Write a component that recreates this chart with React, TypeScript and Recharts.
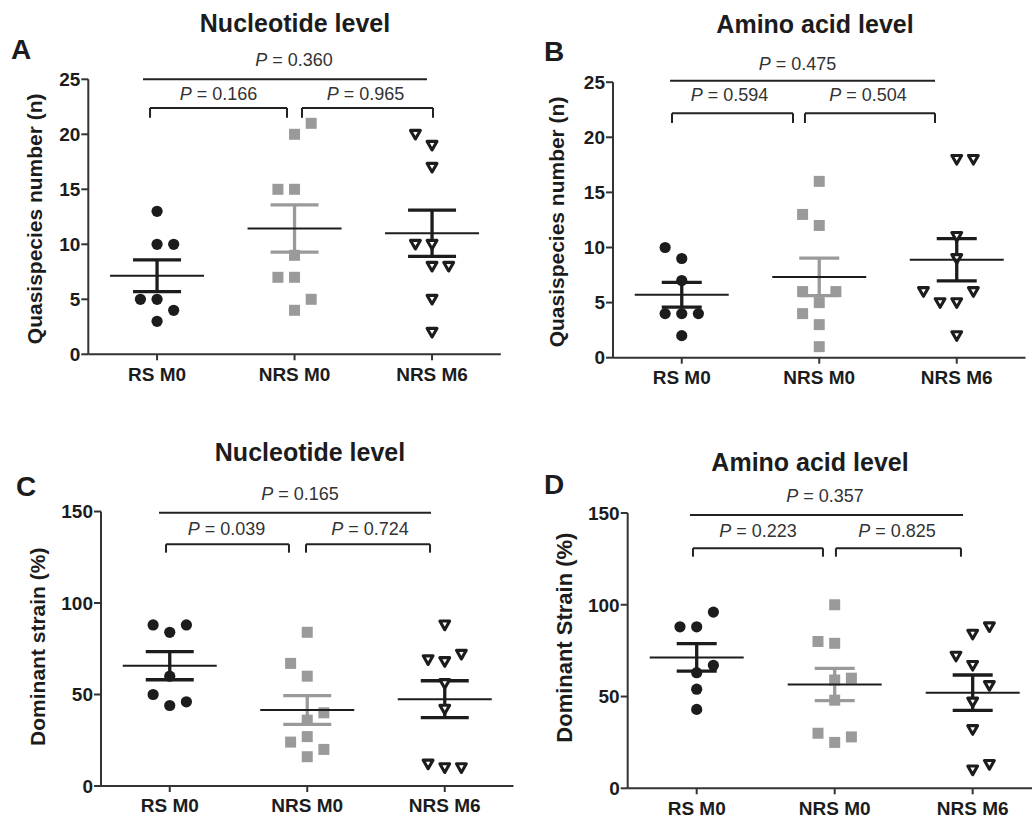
import React from "react";
import { ScatterChart, Scatter, XAxis, YAxis, ErrorBar, ReferenceLine } from "recharts";

const FONT = "'Liberation Sans', Arial, Helvetica, sans-serif";
const INK = "#1c1c1c";
const GREY = "#9a9a9a";

const groups = ["RS M0", "NRS M0", "NRS M6"];

// A: quasispecies number, nucleotide level
const ntQuasiRS = [13, 10, 10, 5, 5, 4, 3];
const ntQuasiNRS0 = [21, 20, 15, 15, 9, 7, 7, 5, 4];
const ntQuasiNRS6 = [20, 19, 17, 10, 10, 8, 8, 5, 2];
// B: quasispecies number, amino acid level
const aaQuasiRS = [10, 9, 7, 4, 4, 4, 2];
const aaQuasiNRS0 = [16, 13, 12, 6, 6, 5, 4, 3, 1];
const aaQuasiNRS6 = [18, 18, 11, 9, 6, 6, 5, 5, 2];
// C: dominant strain (%), nucleotide level
const ntDomRS = [88, 88, 84, 60, 50, 46, 44];
const ntDomNRS0 = [84, 67, 60, 40, 36, 27, 24, 20, 16];
const ntDomNRS6 = [88, 69, 68, 72, 56, 42, 12, 10, 10];
// D: dominant strain (%), amino acid level
const aaDomRS = [96, 88, 88, 67, 63, 54, 43];
const aaDomNRS0 = [100, 80, 79, 59, 60, 48, 30, 28, 25];
const aaDomNRS6 = [88, 84, 72, 67, 56, 47, 32, 10, 13];

// which column each dot sits in (prism-style spreading of close values)
const ntQuasiLanes = [[0, 0, 1, -1, 0, 1, 0], [1, 0, -1, 0, 0, -1, 0, 1, 0], [-1, 0, 0, -1, 0, 0, 1, 0, 0]];
const aaQuasiLanes = [[-1, 0, 0, -1, 0, 1, 0], [0, -1, 0, -1, 1, 0, -1, 0, 0], [0, 1, 0, 0, -2, 1, -1, 0, 0]];
const ntDomLanes = [[-1, 1, 0, 0, -1, 1, 0], [0, -1, 0, 1, 0, 0, -1, 1, 0], [0, -1, 0, 1, 0, 0, -1, 0, 1]];
const aaDomLanes = [[1, -1, 0, 1, 0, 0, 0], [0, -1, 0, 0, 1, 0, -1, 1, 0], [1, 0, -1, 0, 1, 0, 0, 0, 1]];

const quasiTicks = [0, 5, 10, 15, 20, 25];
const domTicks = [0, 50, 100, 150];

const LANE = 0.121;

const mean = (v: number[]) => v.reduce((a, b) => a + b, 0) / v.length;
const sem = (v: number[]) => {
  const m = mean(v);
  const sd = Math.sqrt(v.reduce((a, b) => a + (b - m) ** 2, 0) / (v.length - 1));
  return sd / Math.sqrt(v.length);
};

const Dot = (p: any) => <circle cx={p.cx} cy={p.cy} r={5.6} fill={INK} />;
const Square = (p: any) => <rect x={p.cx - 5.5} y={p.cy - 5.5} width={11} height={11} fill={GREY} />;
const DownTri = (p: any) => (
  <polygon
    points={`${p.cx - 4.9},${p.cy - 3.9} ${p.cx + 4.9},${p.cy - 3.9} ${p.cx},${p.cy + 4.7}`}
    fill="#fff" stroke={INK} strokeWidth={3.1} strokeLinejoin="round"
  />
);
const MeanLine = (p: any) => (
  <line x1={p.cx - 47} x2={p.cx + 47} y1={p.cy} y2={p.cy} stroke={INK} strokeWidth={2} />
);

const markers = [Dot, Square, DownTri];
const barColors = [INK, GREY, INK];

const PLabel = (p: any) => {
  const vb = p.viewBox || { x: 0, y: 0, width: 0 };
  const x = vb.x + vb.width / 2 + (p.dx || 0);
  const y = vb.y - p.gap;
  return (
    <text x={x} y={y} textAnchor="middle" fontSize={18} fill="#333" fontFamily={FONT}>
      <tspan fontStyle="italic">P</tspan>
      {" = " + p.text}
    </text>
  );
};

const YLabel = (p: any) => {
  const vb = p.viewBox || { x: 0, y: 0, height: 0 };
  const cx = vb.x + p.px;
  const cy = vb.y + vb.height / 2 + p.dy;
  return (
    <text x={cx} y={cy} transform={`rotate(-90 ${cx} ${cy})`} textAnchor="middle" dominantBaseline="central"
      fontSize={p.size} fontWeight={700} fill={INK} fontFamily={FONT}>
      {p.text}
    </text>
  );
};

type Bracket = { x1: number; x2: number; y: number; leg?: number; text: string; gap: number; dx: number };

const panels = [
  {
    left: 0, top: 40, axisW: 88.3, plotW: 412.5, plotH: 275, mTop: 39.3, mRight: 10, yMax: 25, ticks: quasiTicks,
    yLabel: "Quasispecies number (n)", yPx: 35, yDy: 2, ySize: 21, capW: 24,
    series: [ntQuasiRS, ntQuasiNRS0, ntQuasiNRS6], lanes: ntQuasiLanes,
    brackets: [
      { x1: 0.398, x2: 2.463, y: 25, text: "0.360", gap: 13.3, dx: 9 },
      { x1: 0.449, x2: 1.445, y: 22.4, leg: 21.5, text: "0.166", gap: 8, dx: 0 },
      { x1: 1.554, x2: 2.507, y: 22.4, leg: 21.5, text: "0.965", gap: 8, dx: -2 },
    ] as Bracket[],
  },
  {
    left: 520, top: 40, axisW: 93, plotW: 412.5, plotH: 275.5, mTop: 42.2, mRight: 5, yMax: 25, ticks: quasiTicks,
    yLabel: "Quasispecies number (n)", yPx: 36, yDy: 2, ySize: 21, capW: 20,
    series: [aaQuasiRS, aaQuasiNRS0, aaQuasiNRS6], lanes: aaQuasiLanes,
    brackets: [
      { x1: 0.415, x2: 2.342, y: 25.14, text: "0.475", gap: 10.7, dx: -5 },
      { x1: 0.429, x2: 1.309, y: 22.18, leg: 21.3, text: "0.594", gap: 12, dx: -3 },
      { x1: 1.396, x2: 2.342, y: 22.18, leg: 21.3, text: "0.504", gap: 12, dx: -2 },
    ] as Bracket[],
  },
  {
    left: 0, top: 440, axisW: 101, plotW: 412.5, plotH: 274.5, mTop: 71.5, mRight: 8, yMax: 150, ticks: domTicks,
    yLabel: "Dominant strain (%)", yPx: 37, yDy: -2, ySize: 21, capW: 24,
    series: [ntDomRS, ntDomNRS0, ntDomNRS6], lanes: ntDomLanes,
    brackets: [
      { x1: 0.422, x2: 2.4, y: 149.3, text: "0.165", gap: 12.7, dx: 5 },
      { x1: 0.473, x2: 1.367, y: 132.1, leg: 127.5, text: "0.039", gap: 9.6, dx: -1 },
      { x1: 1.491, x2: 2.393, y: 132.1, leg: 127.5, text: "0.724", gap: 9.6, dx: 2 },
    ] as Bracket[],
  },
  {
    left: 520, top: 440, axisW: 107.7, plotW: 414, plotH: 275.3, mTop: 73, mRight: 0, yMax: 150, ticks: domTicks,
    yLabel: "Dominant Strain (%)", yPx: 45, yDy: -13, ySize: 22, capW: 20,
    series: [aaDomRS, aaDomNRS0, aaDomNRS6], lanes: aaDomLanes,
    brackets: [
      { x1: 0.451, x2: 2.43, y: 148.9, text: "0.357", gap: 13, dx: -1.5 },
      { x1: 0.473, x2: 1.415, y: 130.8, leg: 126.2, text: "0.223", gap: 11.6, dx: 0 },
      { x1: 1.509, x2: 2.415, y: 130.8, leg: 126.2, text: "0.825", gap: 11.6, dx: -1.5 },
    ] as Bracket[],
  },
];

const axisLine = { stroke: "#333", strokeWidth: 2 };
const tickStyle = { fill: INK, fontSize: 19, fontWeight: 700, fontFamily: FONT };

function Panel({ cfg }: { cfg: (typeof panels)[number] }) {
  const xAxisH = 45;
  return (
    <div style={{ position: "absolute", left: cfg.left, top: cfg.top }}>
      <ScatterChart
        width={cfg.axisW + cfg.plotW + cfg.mRight}
        height={cfg.mTop + cfg.plotH + xAxisH}
        margin={{ top: cfg.mTop, right: cfg.mRight, bottom: 0, left: 0 }}
      >
        <XAxis
          type="number" dataKey="x" domain={[0, 3]} ticks={[0.5, 1.5, 2.5]} interval={0}
          tickFormatter={(v: number) => groups[Math.round(v - 0.5)]}
          height={xAxisH} tickSize={6} tickMargin={7}
          axisLine={axisLine} tickLine={axisLine} tick={tickStyle}
        />
        <YAxis
          type="number" dataKey="y" domain={[0, cfg.yMax]} ticks={cfg.ticks} interval={0}
          width={cfg.axisW} tickSize={7} tickMargin={1}
          axisLine={axisLine} tickLine={axisLine} tick={tickStyle}
          label={<YLabel text={cfg.yLabel} px={cfg.yPx} dy={cfg.yDy} size={cfg.ySize} />}
        />
        {cfg.series.map((vals, gi) => (
          <Scatter
            key={"pts" + gi}
            data={vals.map((v, i) => ({ x: gi + 0.5 + cfg.lanes[gi][i] * LANE, y: v }))}
            shape={markers[gi]}
            isAnimationActive={false}
          />
        ))}
        {cfg.series.map((vals, gi) => (
          <Scatter
            key={"avg" + gi}
            data={[{ x: gi + 0.5, y: mean(vals), sem: sem(vals) }]}
            shape={MeanLine}
            isAnimationActive={false}
          >
            <ErrorBar dataKey="sem" direction="y" width={cfg.capW} strokeWidth={3.3}
              stroke={barColors[gi]} isAnimationActive={false} />
          </Scatter>
        ))}
        {cfg.brackets.map((b, bi) => (
          <ReferenceLine
            key={"br" + bi}
            segment={[{ x: b.x1, y: b.y }, { x: b.x2, y: b.y }]}
            stroke="#222" strokeWidth={2} ifOverflow="visible"
            label={<PLabel text={b.text} gap={b.gap} dx={b.dx} />}
          />
        ))}
        {cfg.brackets.filter((b) => b.leg !== undefined).flatMap((b, bi) => [
          <ReferenceLine key={"l1" + bi} segment={[{ x: b.x1, y: b.y }, { x: b.x1, y: b.leg }]}
            stroke="#222" strokeWidth={2} ifOverflow="visible" />,
          <ReferenceLine key={"l2" + bi} segment={[{ x: b.x2, y: b.y }, { x: b.x2, y: b.leg }]}
            stroke="#222" strokeWidth={2} ifOverflow="visible" />,
        ])}
      </ScatterChart>
    </div>
  );
}

export default function App() {
  return (
    <div style={{ position: "absolute", left: 0, top: 0, width: 1032, height: 822, overflow: "hidden", background: "#fff" }}>
      {panels.map((cfg, i) => <Panel key={i} cfg={cfg} />)}
      <svg width={1032} height={822} style={{ position: "absolute", left: 0, top: 0, pointerEvents: "none" }}>
        <g fontFamily={FONT} fill={INK} fontWeight={700}>
          <text x={295} y={32} textAnchor="middle" fontSize={25}>Nucleotide level</text>
          <text x={815} y={33} textAnchor="middle" fontSize={25}>Amino acid level</text>
          <text x={310} y={461} textAnchor="middle" fontSize={25}>Nucleotide level</text>
          <text x={810} y={471} textAnchor="middle" fontSize={25}>Amino acid level</text>
          <text x={11} y={59} fontSize={28}>A</text>
          <text x={544} y={61} fontSize={28}>B</text>
          <text x={16} y={496} fontSize={28}>C</text>
          <text x={544} y={494} fontSize={28}>D</text>
        </g>
      </svg>
    </div>
  );
}
